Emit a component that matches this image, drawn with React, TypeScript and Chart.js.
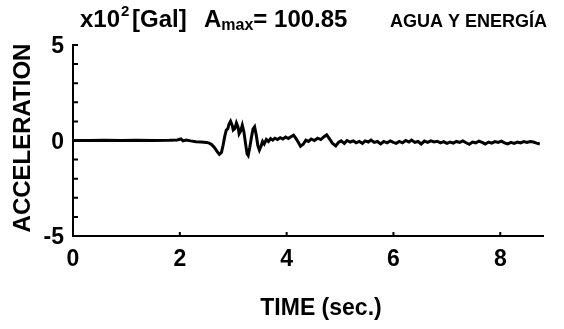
import React, { useEffect, useRef } from "react";
import { Chart, registerables } from "chart.js";

Chart.register(...registerables);

// Time (s) of each sample
const TIME = [
  0.0, 0.3, 0.6, 0.9, 1.2, 1.5, 1.8, 1.95, 2.02, 2.06, 2.12, 2.2, 2.3, 2.4, 2.5, 2.55, 2.6, 2.65, 2.7, 2.74,
  2.78, 2.81, 2.84, 2.87, 2.9, 2.92, 2.95, 2.98, 3.0, 3.03, 3.06, 3.09, 3.11, 3.14, 3.17, 3.2, 3.23, 3.26, 3.28, 3.31,
  3.34, 3.37, 3.4, 3.43, 3.46, 3.49, 3.52, 3.55, 3.58, 3.62, 3.66, 3.7, 3.74, 3.78, 3.83, 3.88, 3.93, 3.98, 4.03, 4.08,
  4.13, 4.17, 4.21, 4.26, 4.31, 4.36, 4.41, 4.46, 4.52, 4.58, 4.64, 4.7, 4.75, 4.8, 4.86, 4.92, 4.97, 5.02, 5.08, 5.13,
  5.19, 5.25, 5.3, 5.36, 5.42, 5.47, 5.53, 5.58, 5.64, 5.7, 5.76, 5.82, 5.88, 5.94, 6.0, 6.05, 6.11, 6.17, 6.23, 6.29,
  6.34, 6.4, 6.46, 6.52, 6.58, 6.64, 6.7, 6.76, 6.82, 6.88, 6.94, 7.0, 7.06, 7.12, 7.18, 7.24, 7.3, 7.36, 7.42, 7.48,
  7.54, 7.6, 7.66, 7.72, 7.78, 7.84, 7.9, 7.96, 8.02, 8.08, 8.14, 8.2, 8.26, 8.32, 8.38, 8.44, 8.5, 8.56, 8.62, 8.68,
  8.74,
];

// Acceleration (x10^2 Gal) of each sample
const ACCEL = [
  0.0, 0.0, 0.01, 0.0, 0.01, 0.0, 0.01, 0.03, 0.08, -0.02, 0.02, -0.02, -0.06, -0.08, -0.1, -0.14, -0.22, -0.38, -0.58, -0.72,
  -0.62, -0.25, 0.2, 0.55, 0.62, 0.85, 1.01, 0.8, 0.55, 0.62, 0.92, 0.7, 0.35, 0.5, 0.8, 0.45, -0.15, -0.7, -0.78, -0.35,
  0.15, 0.6, 0.72, 0.3, -0.25, -0.5, -0.3, -0.05, -0.18, 0.05, -0.05, 0.1, 0.02, 0.12, 0.05, 0.15, 0.08, 0.18, 0.1, 0.2,
  0.28, 0.12, -0.05, -0.3, -0.2, 0.02, -0.05, 0.08, 0.0, 0.12, 0.05, 0.2, 0.3, 0.1, -0.15, -0.28, -0.1, -0.02, -0.15, 0.0,
  -0.08, -0.02, -0.12, -0.05, -0.15, -0.02, -0.08, 0.02, -0.1, -0.05, -0.18, -0.05, -0.12, -0.02, -0.1, -0.15, -0.05, -0.12, 0.0, -0.08,
  0.02, -0.1, -0.05, -0.18, -0.03, -0.1, -0.02, -0.08, -0.04, -0.12, -0.06, -0.15, -0.08, -0.14, -0.05, -0.1, -0.02, -0.12, -0.2, -0.08,
  -0.12, -0.03, -0.1, -0.18, -0.08, -0.14, -0.06, -0.1, -0.03, -0.12, -0.18, -0.1, -0.15, -0.08, -0.13, -0.06, -0.1, -0.05, -0.08, -0.14,
  -0.18,
];

const X_TICKS = [0, 2, 4, 6, 8];
const X_MINOR = [2, 4, 6, 8];
const Y_TICKS = [-5, 0, 5];
const Y_MINOR = [-4, -3, -2, -1, 1, 2, 3, 4, 5];

const FONT = "'Liberation Sans', Arial, sans-serif";

const decorPlugin = {
  id: "decor",
  afterDraw(chart: any) {
    const ctx = chart.ctx;
    const xs = chart.scales.x;
    const ys = chart.scales.y;
    const left = chart.chartArea.left;
    const bottom = chart.chartArea.bottom;
    ctx.save();
    ctx.strokeStyle = "#000";
    ctx.lineWidth = 2;
    ctx.beginPath();
    for (const v of Y_MINOR) {
      const y = ys.getPixelForValue(v);
      ctx.moveTo(left, y);
      ctx.lineTo(left + 5, y);
    }
    for (const v of X_MINOR) {
      const x = xs.getPixelForValue(v);
      ctx.moveTo(x, bottom);
      ctx.lineTo(x, bottom - 4);
    }
    ctx.stroke();

    ctx.fillStyle = "#000";
    ctx.textBaseline = "alphabetic";
    ctx.textAlign = "left";
    // header
    ctx.font = `bold 24px ${FONT}`;
    ctx.fillText("x10", 80, 27);
    const w = ctx.measureText("x10").width;
    ctx.font = `bold 15px ${FONT}`;
    ctx.fillText("2", 80 + w + 1, 16);
    ctx.font = `bold 24px ${FONT}`;
    ctx.fillText("[Gal]", 80 + w + 12, 27);
    ctx.fillText("A", 204, 27);
    const wa = ctx.measureText("A").width;
    ctx.font = `bold 16px ${FONT}`;
    ctx.fillText("max", 204 + wa, 30);
    const wm = ctx.measureText("max").width;
    ctx.font = `bold 24px ${FONT}`;
    ctx.fillText("= 100.85", 204 + wa + wm, 27);
    ctx.font = `bold 18px ${FONT}`;
    ctx.fillText("AGUA Y ENERGÍA", 390, 27);

    // axis titles
    ctx.font = `bold 23px ${FONT}`;
    ctx.textAlign = "center";
    ctx.textBaseline = "middle";
    ctx.fillText("TIME (sec.)", 321, 309);
    ctx.translate(23, 138);
    ctx.rotate(-Math.PI / 2);
    ctx.font = `bold 24px ${FONT}`;
    ctx.fillText("ACCELERATION", 0, 0);
    ctx.restore();
  },
};

export default function App() {
  const ref = useRef<HTMLCanvasElement | null>(null);
  useEffect(() => {
    if (!ref.current) return;
    const data = TIME.map((t, i) => ({ x: t, y: ACCEL[i] }));
    const chart = new Chart(ref.current, {
      type: "line",
      data: {
        datasets: [
          {
            data,
            borderColor: "#000",
            borderWidth: 3,
            pointRadius: 0,
            tension: 0,
            fill: false,
          },
        ],
      },
      options: {
        animation: false,
        responsive: false,
        maintainAspectRatio: false,
        layout: { padding: { left: 0, right: 21, top: 45, bottom: 0 } },
        plugins: { legend: { display: false }, tooltip: { enabled: false }, title: { display: false } },
        scales: {
          x: {
            type: "linear",
            min: 0,
            max: 8.8,
            afterBuildTicks: (s: any) => {
              s.ticks = X_TICKS.map((v) => ({ value: v }));
            },
            afterFit: (s: any) => {
              s.height = 93;
            },
            grid: { display: false, drawTicks: false },
            border: { display: true, color: "#000", width: 2 },
            ticks: {
              color: "#000",
              font: { family: FONT, size: 23, weight: "bold" },
              padding: 10,
              maxRotation: 0,
              autoSkip: false,
            },
          },
          y: {
            type: "linear",
            min: -5,
            max: 5,
            afterBuildTicks: (s: any) => {
              s.ticks = Y_TICKS.map((v) => ({ value: v }));
            },
            afterFit: (s: any) => {
              s.width = 73;
            },
            grid: { display: false, drawTicks: false },
            border: { display: true, color: "#000", width: 2 },
            ticks: {
              color: "#000",
              font: { family: FONT, size: 23, weight: "bold" },
              padding: 9,
              labelOffset: 2,
            },
          },
        },
      },
      plugins: [decorPlugin],
    });
    return () => chart.destroy();
  }, []);
  return (
    <div style={{ position: "fixed", left: 0, top: 0, width: 564, height: 329, background: "#fff" }}>
      <canvas ref={ref} width={564} height={329} style={{ width: 564, height: 329 }} />
    </div>
  );
}
